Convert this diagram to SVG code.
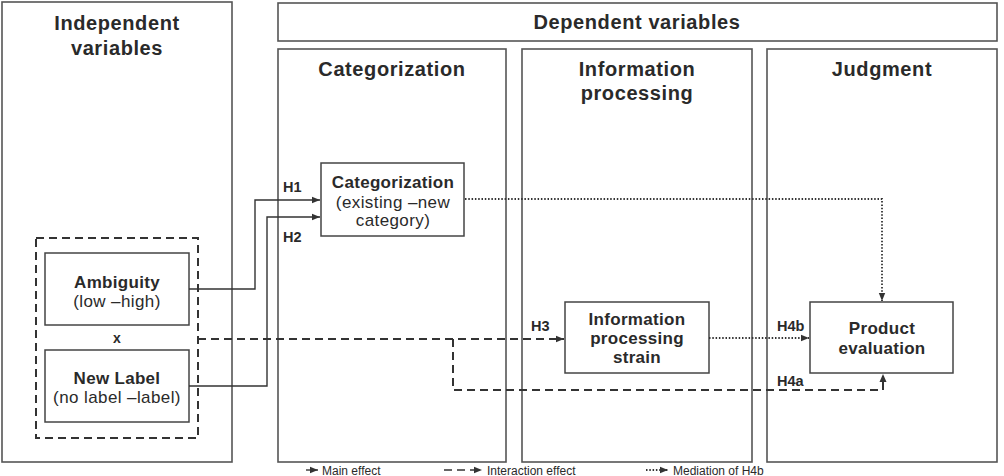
<svg xmlns="http://www.w3.org/2000/svg" width="1004" height="476" viewBox="0 0 1004 476">
<defs>
<style>
.frame{fill:#fff;stroke:#555;stroke-width:1.6}
.node{fill:#fff;stroke:#444;stroke-width:1.5}
.t{font-family:"Liberation Sans",Arial,sans-serif;fill:#2a2a2a;text-anchor:middle}
.h{font-size:20px;font-weight:bold;letter-spacing:0.6px}
.nb{font-size:17px;font-weight:bold;letter-spacing:0.3px}
.nr{font-size:17px;letter-spacing:0.4px}
.lab{font-family:"Liberation Sans",Arial,sans-serif;fill:#2a2a2a;font-size:14.5px;font-weight:bold}
.leg{font-family:"Liberation Sans",Arial,sans-serif;fill:#2a2a2a;font-size:12px}
.solid{fill:none;stroke:#333;stroke-width:1.4}
.dash{fill:none;stroke:#333;stroke-width:2;stroke-dasharray:8 5}
.dot{fill:none;stroke:#333;stroke-width:1.8;stroke-dasharray:1.5 1.8}
</style>
<marker id="ah" viewBox="0 0 10 10" refX="10" refY="5" markerWidth="8" markerHeight="8" markerUnits="userSpaceOnUse" orient="auto">
<path d="M0,1 L10,5 L0,9 z" fill="#333"/>
</marker>
</defs>
<g id="panel-independent">
<rect class="frame" x="2" y="2" width="230" height="460"/>
<text class="t h" x="117" y="30">Independent</text>
<text class="t h" x="117" y="55">variables</text>
</g>
<g id="panel-dependent">
<rect class="frame" x="278" y="3" width="719" height="38"/>
<text class="t h" x="637" y="29">Dependent variables</text>
</g>
<g id="panel-categorization">
<rect class="frame" x="278" y="49" width="228" height="413"/>
<text class="t h" x="392" y="76">Categorization</text>
</g>
<g id="panel-information">
<rect class="frame" x="522" y="49" width="230" height="413"/>
<text class="t h" x="637" y="76">Information</text>
<text class="t h" x="637" y="100">processing</text>
</g>
<g id="panel-judgment">
<rect class="frame" x="767" y="49" width="230" height="413"/>
<text class="t h" x="882" y="76">Judgment</text>
</g>
<g id="interaction-group">
<rect x="36" y="238" width="162" height="200" fill="none" stroke="#333" stroke-width="2" stroke-dasharray="8 5"/>
<text class="t" x="117" y="343" style="font-size:14px;font-weight:bold">x</text>
</g>
<g id="node-ambiguity">
<rect class="node" x="45" y="253" width="144" height="72"/>
<text class="t nb" x="117" y="288">Ambiguity</text>
<text class="t nr" x="117" y="307">(low –high)</text>
</g>
<g id="node-newlabel">
<rect class="node" x="45" y="350" width="144" height="72"/>
<text class="t nb" x="117" y="384">New Label</text>
<text class="t nr" x="117" y="403">(no label –label)</text>
</g>
<g id="node-categorization">
<rect class="node" x="321" y="163" width="143" height="73"/>
<text class="t nb" x="393" y="188">Categorization</text>
<text class="t nr" x="393" y="208">(existing –new</text>
<text class="t nr" x="393" y="226">category)</text>
</g>
<g id="node-strain">
<rect class="node" x="565" y="302" width="144" height="71"/>
<text class="t nb" x="637" y="325">Information</text>
<text class="t nb" x="637" y="344">processing</text>
<text class="t nb" x="637" y="363">strain</text>
</g>
<g id="node-evaluation">
<rect class="node" x="810" y="302" width="143" height="71"/>
<text class="t nb" x="882" y="334">Product</text>
<text class="t nb" x="882" y="354">evaluation</text>
</g>
<g id="connectors">
<path class="solid" d="M189,289 H255 V200 H320" marker-end="url(#ah)"/>
<path class="solid" d="M189,386 H267 V217 H320" marker-end="url(#ah)"/>
<path class="dash" d="M198,339 H564" marker-end="url(#ah)"/>
<path class="dash" d="M453,339 V390 H883 V376"/>
<path d="M883,374 L879.5,382 L886.5,382 z" fill="#333"/>
<path class="dot" d="M709,338 H809" marker-end="url(#ah)"/>
<path class="dot" d="M465,199 H882 V301" marker-end="url(#ah)"/>
<text class="lab" x="283" y="192">H1</text>
<text class="lab" x="283" y="242">H2</text>
<text class="lab" x="531" y="331">H3</text>
<text class="lab" x="777" y="331">H4b</text>
<text class="lab" x="777" y="386">H4a</text>
</g>
<g id="legend">
<path class="solid" d="M306,470 H318" marker-end="url(#ah)"/>
<text class="leg" x="322" y="475">Main effect</text>
<path class="dash" d="M444,470 H482" marker-end="url(#ah)" style="stroke-width:1.5"/>
<text class="leg" x="487" y="475">Interaction effect</text>
<path class="dot" d="M646,470 H668" marker-end="url(#ah)"/>
<text class="leg" x="673" y="475">Mediation of H4b</text>
</g>
</svg>
